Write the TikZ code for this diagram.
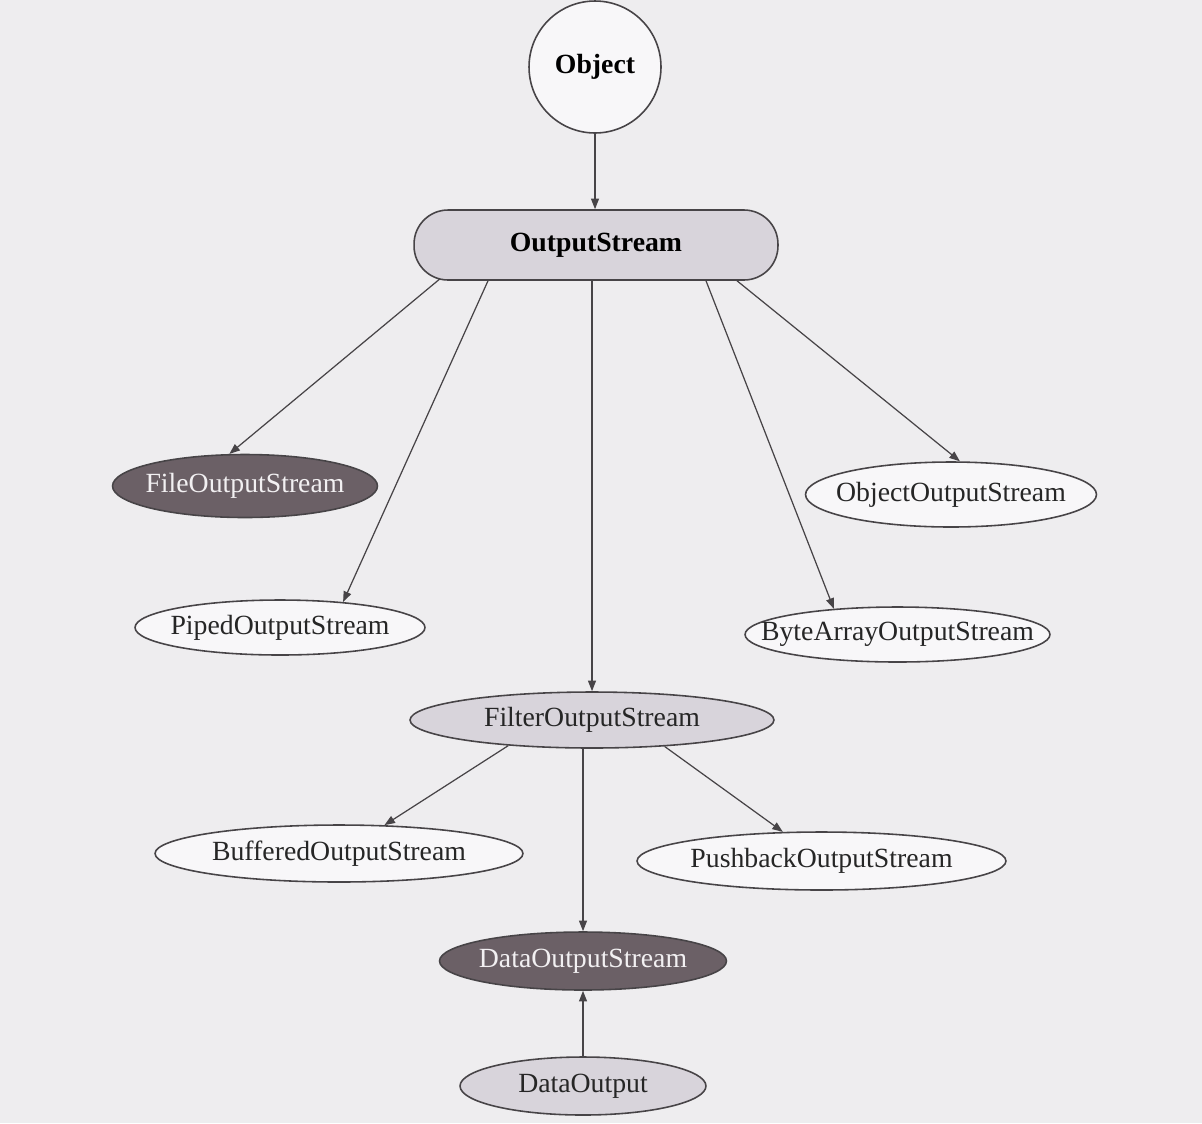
\documentclass[tikz,border=0pt]{standalone}
\usepackage{fontspec}
\setmainfont{Liberation Serif}
\usetikzlibrary{shapes.geometric,arrows.meta,calc}

\definecolor{paper}{HTML}{EEEDEF}
\definecolor{ink}{HTML}{474447}
\definecolor{pale}{HTML}{F8F7F9}
\definecolor{lilac}{HTML}{D8D4DB}
\definecolor{plum}{HTML}{6B6066}
\definecolor{chalk}{HTML}{F2F0F2}

% zero-width label so the ellipse keeps its given size
\newcommand\lbl[1]{\makebox[0pt]{#1}}

\tikzset{
  cls/.style={ellipse, draw=ink, line width=0.9pt, inner sep=0pt,
    font=\fontsize{15.8}{18}\selectfont},
  plain/.style={cls, fill=pale, text=black!85},
  abstr/.style={cls, fill=lilac, text=black!85},
  final/.style={cls, fill=plum, text=chalk},
  edge/.style={draw=ink, line width=0.7pt, -{Triangle[length=6pt,width=4.5pt]}}
}

\begin{document}
\begin{tikzpicture}[x=0.02cm, y=-0.02cm]
  \fill[paper] (0,0) rectangle (1202,1123);
  \useasboundingbox (0,0) rectangle (1202,1123);

  % root of the hierarchy
  \node[circle, draw=ink, line width=0.9pt, fill=pale, minimum size=2.64cm,
        inner sep=0pt, font=\fontsize{15.8}{18}\selectfont\bfseries]
        (obj) at (595,67) {Object};

  \node[rectangle, rounded corners=0.68cm, draw=ink, line width=0.9pt,
        fill=lilac, minimum width=7.28cm, minimum height=1.4cm, inner sep=0pt,
        font=\fontsize{15.8}{18}\selectfont\bfseries]
        (os) at (596,245) {OutputStream};

  % direct subclasses
  \node[final, minimum width=5.3cm,  minimum height=1.26cm] (file)  at (245,486)   {\lbl{FileOutputStream}};
  \node[plain, minimum width=5.8cm,  minimum height=1.1cm]  (piped) at (280,627.5) {\lbl{PipedOutputStream}};
  \node[plain, minimum width=5.82cm, minimum height=1.3cm]  (objos) at (951,494.5) {\lbl{ObjectOutputStream}};
  \node[plain, minimum width=6.1cm,  minimum height=1.1cm]  (bytes) at (897.5,634.5) {\lbl{ByteArrayOutputStream}};
  \node[abstr, minimum width=7.28cm, minimum height=1.12cm] (filt)  at (592,720)   {\lbl{FilterOutputStream}};

  % filter subclasses
  \node[plain, minimum width=7.36cm, minimum height=1.14cm] (buf)  at (339,853.5)  {\lbl{BufferedOutputStream}};
  \node[plain, minimum width=7.38cm, minimum height=1.16cm] (push) at (821.5,861)  {\lbl{PushbackOutputStream}};
  \node[final, minimum width=5.74cm, minimum height=1.16cm] (dos)  at (583,961)    {\lbl{DataOutputStream}};

  % interface
  \node[abstr, minimum width=4.92cm, minimum height=1.16cm] (dout) at (583,1086)   {\lbl{DataOutput}};

  % inheritance arrows
  \draw[edge] (obj.south) -- (obj.south |- os.north);
  \draw[edge] ($(os.south)+(-156,-2)$) -- (file.116);
  \draw[edge] ($(os.south)+(-108,0)$) -- (piped.22);
  \draw[edge] (os.south -| filt.north) -- (filt.north);
  \draw[edge] ($(os.south)+(110,0)$) -- (bytes.158);
  \draw[edge] ($(os.south)+(141,0)$) -- (objos.75);
  \draw[edge] (filt.197) -- (buf.32);
  \draw[edge] (filt.340) -- (push.143);
  \draw[edge] (filt.south -| dos.north) -- (dos.north);
  \draw[edge] (dout) -- (dos);
\end{tikzpicture}
\end{document}
